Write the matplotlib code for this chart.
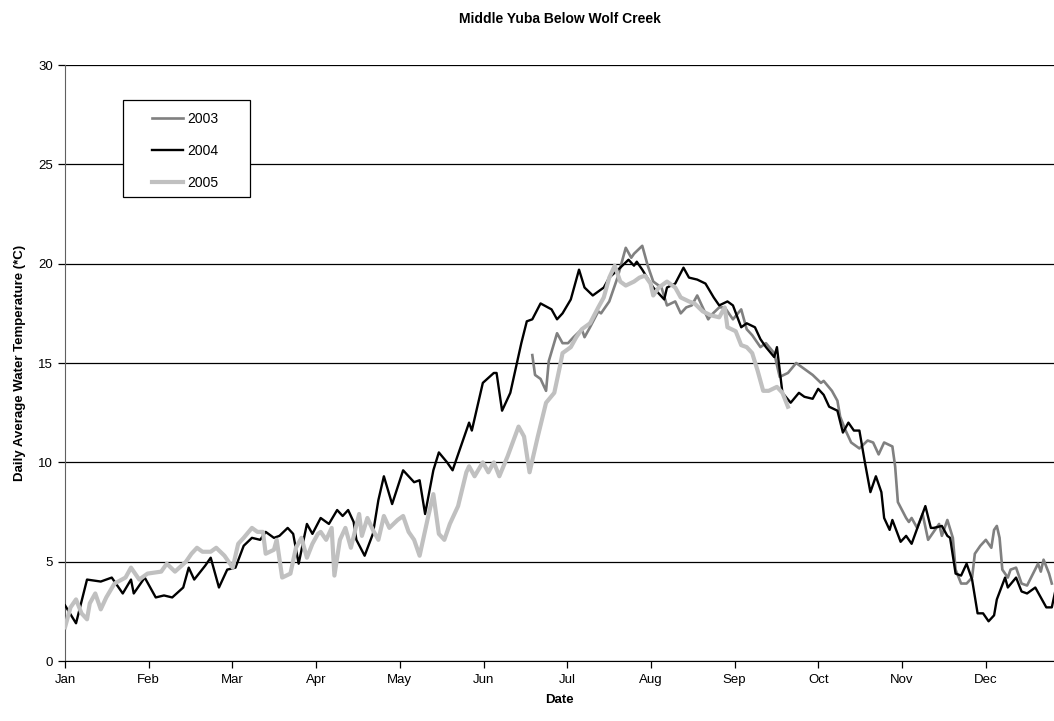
import matplotlib.pyplot as plt
from matplotlib.patches import Rectangle

# Day of year (0 = Jan 1) and daily average temperature (deg C)
day_2003 = [170, 171, 173, 175, 176, 179, 181, 183, 185, 188, 189, 191, 194, 195, 198, 201, 204, 206,
            207, 210, 212, 214, 217, 219, 222, 224, 226, 228, 230, 234, 235, 238, 240, 243, 246, 248,
            250, 253, 255, 258, 260, 263, 266, 270, 272, 275, 276, 279, 281, 282, 284, 286, 289, 292,
            294, 296, 298, 301, 302, 303, 306, 307, 308, 310, 312, 314, 316, 318, 319, 321, 323, 324,
            326, 328, 330, 331, 333, 335, 336, 337, 338, 339, 340, 341, 343, 344, 346, 348, 350, 354,
            355, 356, 358, 359]
temp_2003 = [15.4, 14.4, 14.2, 13.6, 15.1, 16.5, 16.0, 16.0, 16.3, 16.7, 16.3, 16.8, 17.6, 17.5, 18.1,
             19.3, 20.8, 20.3, 20.5, 20.9, 19.9, 19.1, 18.8, 17.9, 18.1, 17.5, 17.8, 17.9, 18.4, 17.2,
             17.4, 17.8, 17.8, 17.2, 17.7, 16.7, 16.4, 15.8, 16.0, 15.5, 14.3, 14.5, 15.0, 14.6, 14.4,
             14.0, 14.1, 13.6, 13.1, 12.3, 11.6, 11.0, 10.7, 11.1, 11.0, 10.4, 11.0, 10.8, 9.8, 8.0,
             7.2, 7.0, 7.2, 6.7, 7.4, 6.1, 6.5, 6.9, 6.3, 7.1, 6.2, 4.6, 3.9, 3.9, 4.2, 5.4, 5.8, 6.1,
             5.9, 5.7, 6.6, 6.8, 6.2, 4.6, 4.2, 4.6, 4.7, 3.9, 3.8, 4.9, 4.5, 5.1, 4.4, 3.9]

day_2004 = [0, 4, 8, 13, 17, 21, 24, 25, 29, 33, 36, 39, 43, 45, 47, 51, 53, 56, 59, 62, 65, 68, 71,
            73, 76, 78, 81, 83, 85, 88, 90, 93, 96, 99, 101, 103, 105, 106, 109, 112, 114, 116, 119,
            123, 127, 129, 131, 134, 136, 139, 141, 144, 147, 148, 152, 156, 157, 159, 162, 166, 168,
            170, 173, 177, 179, 181, 184, 187, 189, 192, 196, 198, 202, 205, 207, 208, 210, 214, 218,
            219, 222, 225, 227, 230, 233, 236, 238, 241, 243, 246, 248, 251, 253, 255, 258, 259, 261,
            264, 267, 269, 272, 274, 276, 278, 281, 283, 285, 287, 289, 291, 293, 295, 297, 298, 300,
            301, 304, 306, 308, 313, 315, 316, 319, 321, 322, 324, 326, 328, 330, 332, 334, 336, 338,
            339, 342, 343, 346, 348, 350, 353, 355, 357, 359, 361]
temp_2004 = [2.8, 1.9, 4.1, 4.0, 4.2, 3.4, 4.1, 3.4, 4.2, 3.2, 3.3, 3.2, 3.7, 4.7, 4.1, 4.8, 5.2, 3.7,
             4.6, 4.7, 5.8, 6.2, 6.1, 6.5, 6.2, 6.3, 6.7, 6.4, 4.9, 6.9, 6.4, 7.2, 6.9, 7.6, 7.3, 7.6,
             7.0, 6.1, 5.3, 6.4, 8.1, 9.3, 7.9, 9.6, 9.0, 9.1, 7.4, 9.6, 10.5, 10.0, 9.6, 10.8, 12.0,
             11.6, 14.0, 14.5, 14.5, 12.6, 13.5, 16.0, 17.1, 17.2, 18.0, 17.7, 17.2, 17.5, 18.2, 19.7,
             18.8, 18.4, 18.8, 19.3, 19.8, 20.2, 19.9, 20.1, 19.7, 18.8, 18.2, 18.8, 19.0, 19.8, 19.3,
             19.2, 19.0, 18.3, 17.9, 18.1, 17.9, 16.8, 17.0, 16.8, 16.2, 15.8, 15.3, 15.8, 13.5, 13.0,
             13.5, 13.3, 13.2, 13.7, 13.4, 12.8, 12.6, 11.5, 12.0, 11.6, 11.6, 10.0, 8.5, 9.3, 8.5, 7.2,
             6.6, 7.1, 6.0, 6.3, 5.9, 7.8, 6.7, 6.7, 6.8, 6.3, 6.2, 4.4, 4.3, 4.9, 4.1, 2.4, 2.4, 2.0,
             2.3, 3.1, 4.2, 3.7, 4.2, 3.5, 3.4, 3.7, 3.2, 2.7, 2.7, 4.0]

day_2005 = [0, 2, 4, 6, 8, 9, 11, 13, 15, 18, 22, 24, 27, 30, 35, 37, 40, 44, 46, 48, 50, 53, 55, 58,
            61, 63, 65, 68, 70, 72, 73, 76, 77, 79, 82, 84, 86, 88, 90, 92, 93, 95, 97, 98, 100, 102,
            104, 107, 108, 110, 112, 114, 116, 118, 121, 123, 125, 127, 129, 132, 134, 136, 138, 140,
            143, 146, 147, 149, 152, 154, 156, 158, 161, 165, 167, 169, 172, 175, 178, 180, 181, 184,
            186, 188, 191, 194, 196, 198, 200, 202, 204, 207, 209, 211, 213, 214, 216, 219, 222, 224,
            227, 229, 232, 235, 238, 240, 241, 244, 246, 248, 250, 252, 254, 256, 259, 261, 263]
temp_2005 = [1.7, 2.7, 3.1, 2.4, 2.1, 2.9, 3.4, 2.6, 3.2, 3.9, 4.2, 4.7, 4.1, 4.4, 4.5, 4.9, 4.5, 5.0,
             5.4, 5.7, 5.5, 5.5, 5.7, 5.3, 4.7, 5.9, 6.2, 6.7, 6.5, 6.5, 5.4, 5.6, 6.1, 4.2, 4.4, 5.7,
             6.2, 5.2, 5.9, 6.4, 6.5, 6.1, 6.7, 4.3, 6.1, 6.7, 5.7, 7.4, 6.3, 7.2, 6.6, 6.1, 7.3, 6.7,
             7.1, 7.3, 6.5, 6.1, 5.3, 7.2, 8.4, 6.4, 6.1, 6.9, 7.8, 9.5, 9.8, 9.3, 10.0, 9.5, 10.0, 9.3,
             10.3, 11.8, 11.3, 9.5, 11.3, 13.0, 13.5, 14.8, 15.5, 15.8, 16.3, 16.7, 17.0, 17.8, 18.3,
             19.3, 19.9, 19.1, 18.9, 19.1, 19.3, 19.4, 19.0, 18.4, 18.8, 19.1, 18.8, 18.3, 18.1, 18.0,
             17.6, 17.4, 17.3, 17.8, 16.8, 16.6, 15.9, 15.8, 15.5, 14.6, 13.6, 13.6, 13.8, 13.5, 12.8]

months = ["Jan", "Feb", "Mar", "Apr", "May", "Jun", "Jul", "Aug", "Sep", "Oct", "Nov", "Dec"]

plt.rcParams["font.family"] = ["Liberation Sans", "DejaVu Sans"]

fig = plt.figure(figsize=(10.54, 7.21), dpi=100)
ax = fig.add_axes([0.0617, 0.0832, 0.9383, 0.8266])

ax.plot(day_2003, temp_2003, color="#808080", lw=1.9, label="2003", zorder=3)
ax.plot(day_2004, temp_2004, color="black", lw=1.7, label="2004", zorder=3)
ax.plot(day_2005, temp_2005, color="#c0c0c0", lw=3.0, label="2005", zorder=3)

ax.set_xlim(0, 359.8)
ax.set_ylim(0, 30)
ax.set_yticks(range(0, 31, 5))
ax.set_xticks([i * 30.45 for i in range(12)])
ax.set_xticklabels(months)
ax.yaxis.grid(True, color="black", lw=0.9)
ax.set_axisbelow(True)

for side in ["top", "right"]:
    ax.spines[side].set_visible(False)
ax.spines["left"].set_color("#606060")
ax.spines["bottom"].set_color("black")
ax.tick_params(axis="both", labelsize=9.5, direction="out", length=5, width=0.9)
ax.tick_params(axis="x", pad=4)

ax.set_title("Middle Yuba Below Wolf Creek", fontsize=10, fontweight="bold", pad=30)
ax.set_xlabel("Date", fontsize=9.5, fontweight="bold", labelpad=6)
ax.set_ylabel("Daily Average Water Temperature (*C)", fontsize=9.5, fontweight="bold", labelpad=9)

# legend box drawn by hand (Excel-style wide padding)
ax.add_patch(Rectangle((0.0586, 0.779), 0.1285, 0.162, transform=ax.transAxes,
                       facecolor="white", edgecolor="black", lw=0.9, zorder=5))
leg = ax.legend(loc="upper left", bbox_to_anchor=(0.088, 0.921), fontsize=10, frameon=False,
                handlelength=2.2, handletextpad=0.3, labelspacing=1.3, borderpad=0,
                borderaxespad=0)
leg.set_zorder(6)

fig.savefig("out.png", dpi=100)
